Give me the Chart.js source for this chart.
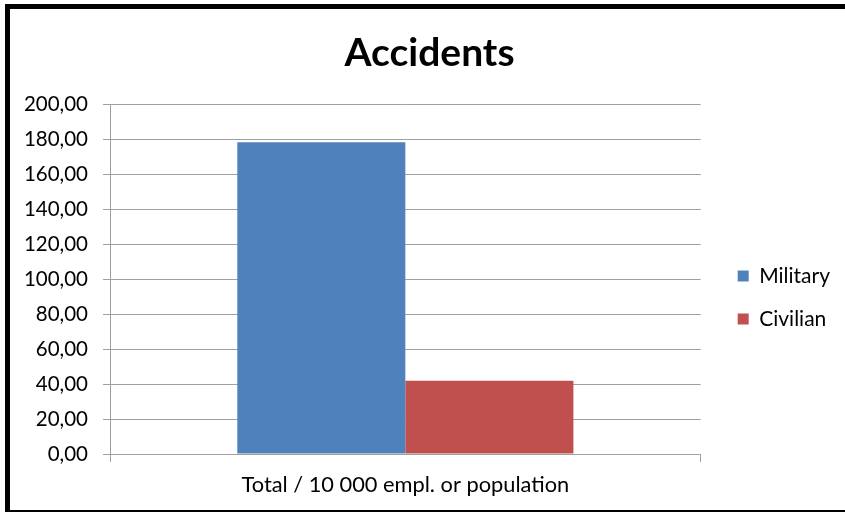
<!DOCTYPE html>
<html>
<head>
<meta charset="utf-8">
<title>Accidents</title>
<script src="https://cdn.jsdelivr.net/npm/chart.js@4.4.0/dist/chart.umd.min.js"></script>
<style>
  html, body { margin: 0; padding: 0; background: #fff; }
  /* black frame like the original Excel chart */
  .frame {
    position: absolute;
    left: 5px;
    top: 4px;
    width: 835px;
    height: 501px;
    border-left: 5px solid #000;
    border-top: 5px solid #000;
    border-bottom: 2px solid #000;
  }
</style>
</head>
<body>
<div class="frame">
  <canvas id="accidentsChart" width="835" height="501"></canvas>
</div>
<script>
// Data
const categories = ['Total / 10 000 empl. or population'];
const seriesNames = ['Military', 'Civilian'];
const militaryValues = [178.5];
const civilianValues = [42];
const yTicks = [0, 20, 40, 60, 80, 100, 120, 140, 160, 180, 200];

const fontFamily = 'Lato, "Open Sans", sans-serif';
const gridColor = '#a0a0a0';

// Nudge legend and title the way Excel places them
const boxOffsets = {
  id: 'boxOffsets',
  afterLayout(chart) {
    chart.legend.left += 15;
    chart.legend.right += 15;
    chart.titleBlock.left += 12;
    chart.titleBlock.right += 12;
  },
};

// Get the canvas context
const ctx = document.getElementById('accidentsChart').getContext('2d');

const chart = new Chart(ctx, {
  type: 'bar',
  data: {
    labels: categories,
    datasets: [
      {
        label: seriesNames[0],
        data: militaryValues,
        backgroundColor: '#4f81bd',
        borderWidth: 0,
      },
      {
        label: seriesNames[1],
        data: civilianValues,
        backgroundColor: '#c0504d',
        borderWidth: 0,
      },
    ],
  },
  options: {
    responsive: false,
    animation: false,
    layout: {
      padding: { left: 0, right: 20, top: 0, bottom: 0 },
    },
    datasets: {
      bar: {
        categoryPercentage: 0.569,
        barPercentage: 1,
      },
    },
    plugins: {
      title: {
        display: true,
        text: 'Accidents',
        color: '#000',
        font: { family: fontFamily, size: 39, weight: 'bold' },
        padding: { top: 21, bottom: 28 },
      },
      legend: {
        position: 'right',
        // empty title only used to shift the items down
        title: {
          display: true,
          text: ' ',
          font: { size: 10 },
          padding: { top: 32, bottom: 32 },
        },
        labels: {
          color: '#000',
          font: { family: fontFamily, size: 21 },
          boxWidth: 11,
          boxHeight: 11,
          padding: 22,
        },
      },
      tooltip: { enabled: false },
    },
    scales: {
      x: {
        offset: true,
        grid: {
          display: true,
          offset: true,
          drawOnChartArea: false,
          drawTicks: true,
          tickLength: 8,
          color: gridColor,
        },
        border: { display: true, color: gridColor },
        ticks: {
          color: '#000',
          font: { family: fontFamily, size: 21.8 },
          padding: 10,
        },
        afterFit: (scale) => { scale.height = 56; },
      },
      y: {
        min: yTicks[0],
        max: yTicks[yTicks.length - 1],
        grid: {
          color: gridColor,
          tickLength: 7,
        },
        border: { display: true, color: gridColor },
        ticks: {
          stepSize: yTicks[1] - yTicks[0],
          color: '#000',
          font: { family: fontFamily, size: 20.5 },
          padding: 15,
          callback: (value) => value.toFixed(2).replace('.', ','),
        },
        afterFit: (scale) => { scale.width = 100; },
      },
    },
  },
  plugins: [boxOffsets],
});
</script>
</body>
</html>
